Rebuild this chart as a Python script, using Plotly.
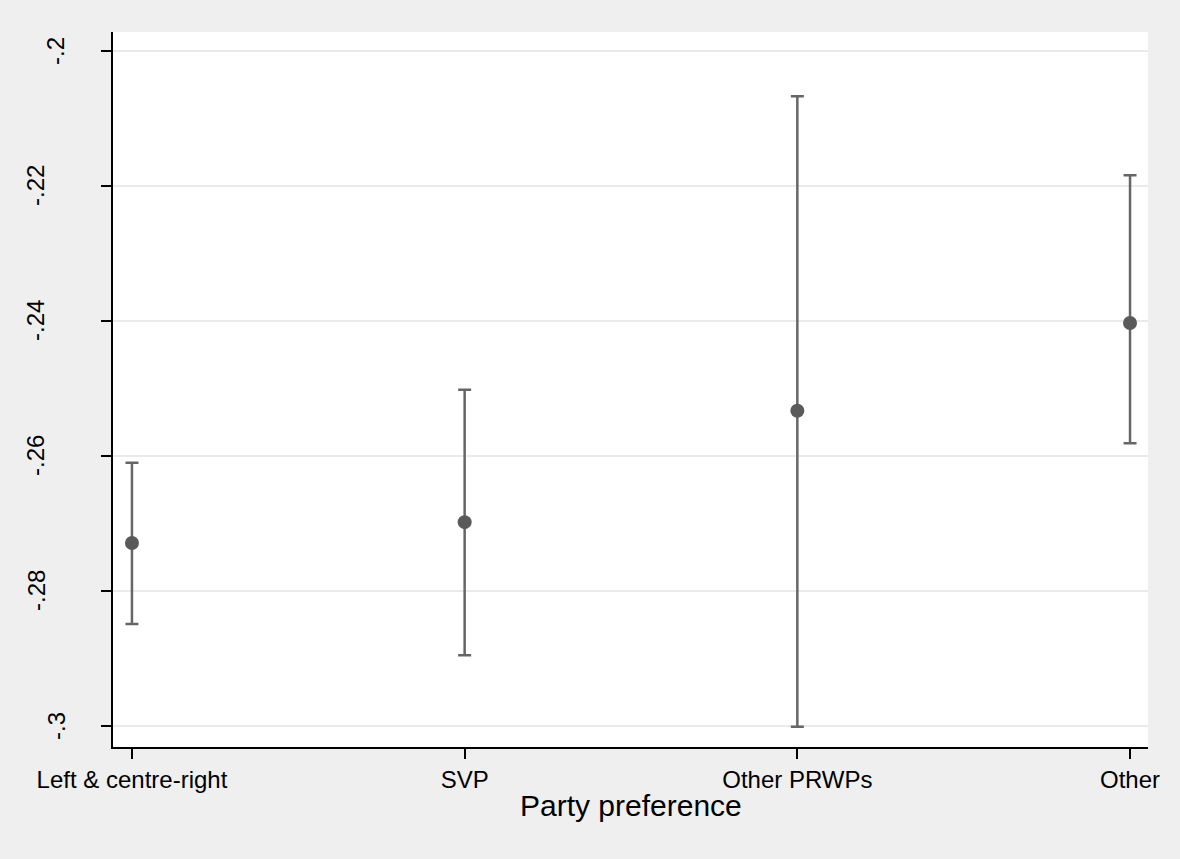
import plotly.graph_objects as go

categories = ["Left & centre-right", "SVP", "Other PRWPs", "Other"]
estimates = [-0.2729, -0.2698, -0.2533, -0.2403]
ci_upper = [-0.2610, -0.2502, -0.2067, -0.2184]
ci_lower = [-0.2849, -0.2895, -0.3001, -0.2581]
ytick_vals = [-0.2, -0.22, -0.24, -0.26, -0.28, -0.3]
ytick_text = ["-.2", "-.22", "-.24", "-.26", "-.28", "-.3"]
x_title = "Party preference"

xpos = list(range(len(categories)))
err_plus = [u - e for u, e in zip(ci_upper, estimates)]
err_minus = [e - l for e, l in zip(estimates, ci_lower)]

FONT = "Liberation Sans, Arial, sans-serif"

fig = go.Figure()
fig.add_trace(go.Scatter(
    x=xpos, y=estimates, mode="markers",
    marker=dict(size=14, color="#5a5a5a"),
    error_y=dict(type="data", symmetric=False, array=err_plus, arrayminus=err_minus,
                 color="#666666", thickness=2.5, width=6.5),
    showlegend=False,
))

# Y tick labels as rotated annotations (Stata-like placement: shorter labels sit further right)
annotations = []
for v, t in zip(ytick_vals, ytick_text):
    center_px = 36 + (4 - len(t)) * 20
    annotations.append(dict(
        x=0, xref="paper", y=v, yref="y", text=t, textangle=-90,
        showarrow=False, xanchor="center", yanchor="middle",
        xshift=center_px - 113,
        font=dict(size=24, color="black", family=FONT),
    ))

# X axis title
annotations.append(dict(
    x=0.5, xref="paper", y=0, yref="paper", text=x_title,
    showarrow=False, xanchor="center", yanchor="middle", yshift=-58,
    font=dict(size=30, color="black", family=FONT),
))

fig.update_layout(
    width=1180, height=859,
    margin=dict(l=113, r=32, t=32, b=112),
    paper_bgcolor="#efefef", plot_bgcolor="white",
    font=dict(family=FONT, color="black"),
    annotations=annotations,
    xaxis=dict(
        range=[-0.057, 3.054], tickvals=xpos, ticktext=categories,
        showgrid=False, zeroline=False,
        showline=True, linecolor="black", linewidth=2,
        ticks="outside", ticklen=10, tickwidth=2, tickcolor="black",
        tickfont=dict(size=24),
    ),
    yaxis=dict(
        range=[-0.30311, -0.19719], tickvals=ytick_vals, showticklabels=False,
        showgrid=True, gridcolor="#eaeaea", gridwidth=2,
        zeroline=False, showline=True, linecolor="black", linewidth=2,
        ticks="outside", ticklen=10, tickwidth=2, tickcolor="black",
    ),
)

fig.write_html("out.html")
